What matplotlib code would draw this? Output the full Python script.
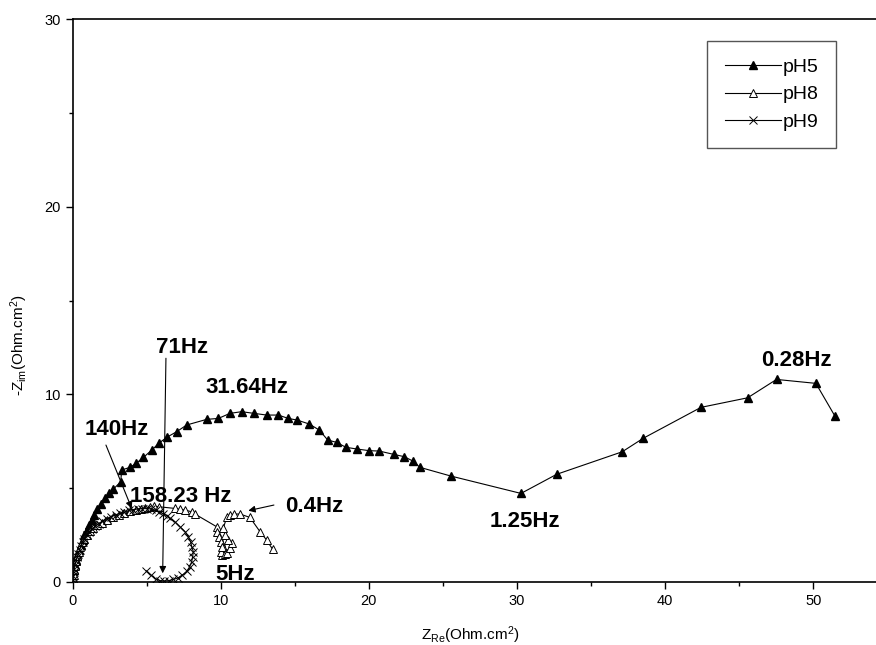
import matplotlib
matplotlib.use('Agg')

import matplotlib.pyplot as plt
from matplotlib.ticker import MultipleLocator

plt.rcParams['font.family'] = ['Liberation Sans', 'DejaVu Sans']
plt.rcParams['mathtext.fontset'] = 'custom'
plt.rcParams['mathtext.rm'] = 'Liberation Sans'
plt.rcParams['mathtext.it'] = 'Liberation Sans'

# pH5 (filled triangles)
ph5_x = [0.03, 0.05, 0.09, 0.16, 0.23, 0.32, 0.43, 0.55, 0.68, 0.79, 0.95, 1.13,
         1.29, 1.44, 1.67, 1.89, 2.19, 2.48, 2.75, 3.25, 3.31, 3.87, 4.28, 4.78,
         5.34, 5.86, 6.35, 7.02, 7.70, 9.05, 9.84, 10.62, 11.41, 12.24, 13.10,
         13.89, 14.56, 15.17, 15.98, 16.65, 17.22, 17.83, 18.45, 19.18, 20.03,
         20.70, 21.69, 22.39, 22.96, 23.45, 25.52, 30.27, 32.68, 37.10, 38.52,
         42.42, 45.57, 47.52, 50.18, 51.46]
ph5_y = [0.13, 0.36, 0.62, 0.89, 1.16, 1.42, 1.69, 1.96, 2.22, 2.49, 2.76, 3.02,
         3.29, 3.56, 3.86, 4.14, 4.45, 4.71, 4.94, 5.33, 5.96, 6.10, 6.31, 6.63,
         7.02, 7.41, 7.70, 8.00, 8.36, 8.66, 8.71, 8.98, 9.07, 8.98, 8.89,
         8.89, 8.71, 8.62, 8.41, 8.09, 7.56, 7.43, 7.17, 7.08, 6.99,
         6.97, 6.79, 6.67, 6.44, 6.10, 5.64, 4.71, 5.73, 6.93, 7.65,
         9.30, 9.81, 10.79, 10.58, 8.84]

# pH8 (open triangles)
ph8_x = [0.02, 0.06, 0.10, 0.15, 0.22, 0.30, 0.40, 0.52, 0.65, 0.80, 0.98, 1.18,
         1.40, 1.65, 1.95, 2.30, 2.70, 3.10, 3.50, 3.90, 4.30, 4.60, 4.90, 5.20,
         5.50, 5.80, 6.91, 7.25, 7.59, 8.04, 8.26, 9.73, 9.77, 9.90, 10.00, 10.13,
         10.17, 10.06, 10.00, 10.10, 10.30, 10.40, 10.62, 10.74, 10.50, 10.30,
         10.17, 10.40, 10.62, 10.92, 11.30, 11.97, 12.65, 13.10, 13.50]
ph8_y = [0.12, 0.35, 0.60, 0.85, 1.10, 1.35, 1.60, 1.85, 2.10, 2.30, 2.50, 2.68,
         2.85, 3.00, 3.15, 3.30, 3.45, 3.58, 3.68, 3.77, 3.85, 3.90, 3.95, 3.98,
         4.02, 4.00, 3.91, 3.86, 3.82, 3.73, 3.61, 2.93, 2.67, 2.40, 2.13, 1.87,
         1.60, 1.42, 1.60, 1.85, 1.50, 1.55, 1.78, 2.05, 2.20, 2.50,
         2.85, 3.43, 3.56, 3.61, 3.61, 3.43, 2.67, 2.22, 1.73]

# pH9 (crosses)
ph9_x = [0.02, 0.05, 0.08, 0.12, 0.17, 0.23, 0.30, 0.38, 0.47, 0.57, 0.68, 0.80,
         0.95, 1.10, 1.30, 1.50, 1.75, 2.00, 2.30, 2.60, 2.90, 3.20, 3.50, 3.80,
         4.10, 4.40, 4.70, 5.00, 5.30, 5.60, 5.85, 6.12, 6.40, 6.60, 6.90, 7.25,
         7.59, 7.81, 7.97, 8.04, 8.15, 8.10, 8.04, 7.90, 7.70, 7.40, 7.10, 6.80,
         6.50, 6.20, 5.90, 5.60, 5.30, 4.96]
ph9_y = [0.10, 0.30, 0.50, 0.70, 0.90, 1.10, 1.30, 1.50, 1.70, 1.90, 2.10, 2.30,
         2.50, 2.65, 2.80, 2.95, 3.10, 3.22, 3.35, 3.47, 3.57, 3.65, 3.72, 3.80,
         3.85, 3.88, 3.90, 3.90, 3.88, 3.82, 3.74, 3.62, 3.50, 3.38, 3.20, 2.93,
         2.67, 2.40, 2.13, 1.87, 1.60, 1.33, 1.07, 0.80, 0.55, 0.35, 0.20, 0.12,
         0.06, 0.04, 0.06, 0.15, 0.35, 0.59]

# frequency labels: text, left x, baseline y
freq_labels = ['71Hz', '31.64Hz', '140Hz', '158.23 Hz', '5Hz', '0.4Hz', '1.25Hz', '0.28Hz']
freq_x = [5.63, 8.98, 0.84, 3.87, 9.61, 14.33, 28.17, 46.51]
freq_y = [12.21, 10.08, 7.82, 4.27, 0.09, 3.73, 2.93, 11.50]

# arrows: start (tail) and end (head)
arrow_from = [(6.30, 11.92), (2.25, 7.29), (13.59, 4.09)]
arrow_to = [(6.08, 0.45), (3.99, 3.91), (11.86, 3.79)]

fig = plt.figure(figsize=(8.76, 6.45), dpi=100)
ax = fig.add_axes([0.0829, 0.0981, 0.930, 0.872])

ax.plot(ph5_x, ph5_y, color='black', lw=0.8, marker='^', markersize=5.5,
        markerfacecolor='black', markeredgecolor='black', label='pH5')
ax.plot(ph8_x, ph8_y, color='black', lw=0.8, marker='^', markersize=5.5,
        markerfacecolor='white', markeredgecolor='black', markeredgewidth=0.7, label='pH8')
ax.plot(ph9_x, ph9_y, color='black', lw=0.8, marker='x', markersize=5.5,
        markeredgewidth=0.7, label='pH9')

for t, x, y in zip(freq_labels, freq_x, freq_y):
    ax.text(x, y, t, fontsize=16, fontweight='bold', ha='left', va='baseline')

for a, b in zip(arrow_from, arrow_to):
    ax.annotate('', xy=b, xytext=a,
                arrowprops=dict(arrowstyle='-|>', color='black', lw=0.8,
                                mutation_scale=10, shrinkA=0, shrinkB=0))

ax.set_xlim(0, 55)
ax.set_ylim(0, 30)
ax.xaxis.set_major_locator(MultipleLocator(10))
ax.xaxis.set_minor_locator(MultipleLocator(5))
ax.yaxis.set_major_locator(MultipleLocator(10))
ax.yaxis.set_minor_locator(MultipleLocator(5))
ax.tick_params(which='both', direction='out', labelsize=10.5, top=False, right=False)
ax.tick_params(which='major', length=5, width=1)
ax.tick_params(which='minor', length=3, width=1)
ax.spines['right'].set_visible(False)
for s in ['left', 'bottom', 'top']:
    ax.spines[s].set_linewidth(1.2)

ax.set_xlabel(r'Z$_{\mathrm{Re}}$(Ohm.cm$^{2}$)', fontsize=11)
ax.set_ylabel(r'-Z$_{\mathrm{im}}$(Ohm.cm$^{2}$)', fontsize=11)
ax.xaxis.set_label_coords(0.488, -0.075)
ax.yaxis.set_label_coords(-0.052, 0.42)

leg = fig.legend(loc='upper left', bbox_to_anchor=(707 / 876, 1 - 41 / 645),
                 bbox_transform=fig.transFigure, borderaxespad=0, fontsize=14,
                 handlelength=2.9, handletextpad=0.1, labelspacing=0.5,
                 borderpad=0.9, fancybox=False, framealpha=1, edgecolor='#555555')
leg.get_frame().set_linewidth(1.0)

fig.savefig('out.png', dpi=100)
